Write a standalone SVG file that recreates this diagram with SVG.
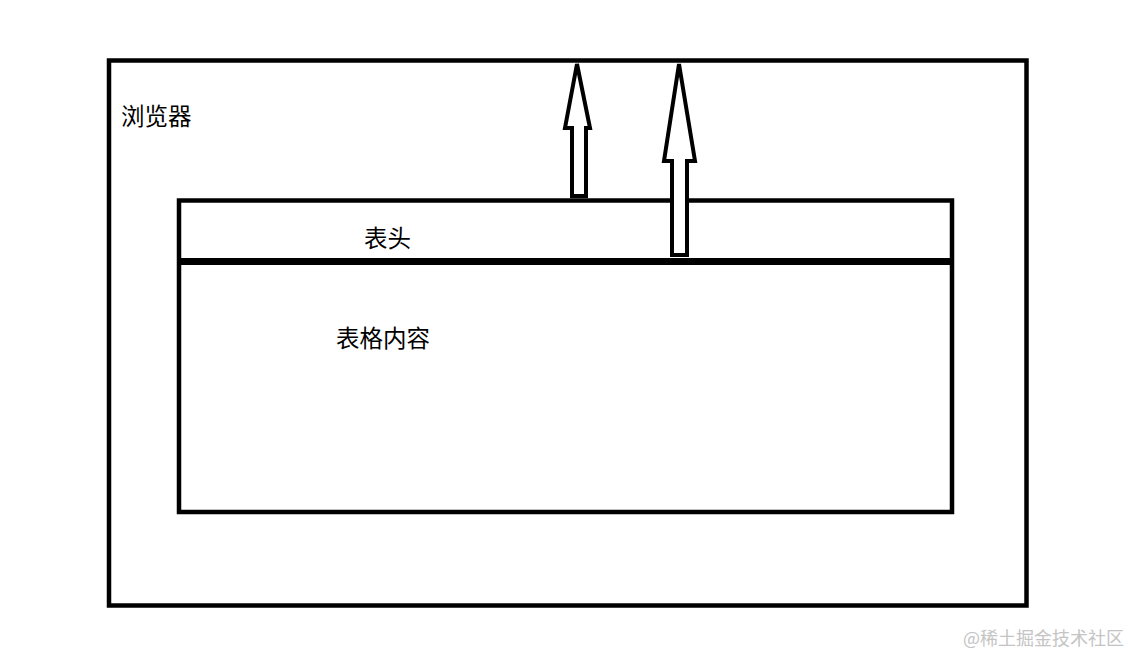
<svg xmlns="http://www.w3.org/2000/svg" width="1130" height="657" viewBox="0 0 1130 657">
<style>
.box{fill:none;stroke:#000;stroke-width:4.5}
.arrow{fill:#fff;stroke:#000;stroke-width:4;stroke-linejoin:miter}
.lbl{font-family:"Microsoft YaHei","Noto Sans CJK SC",sans-serif;font-size:23.5px;fill:#000}
.wm{font-family:"Noto Sans CJK SC",sans-serif;font-size:18px;fill:#c4c4c4}
</style>
<rect width="1130" height="657" fill="#fff"/>
<g id="browser">
<rect class="box" x="109" y="60.5" width="917.5" height="545"/>
<text class="lbl" x="121" y="125">浏览器</text>
</g>
<g id="table">
<rect class="box" x="179" y="200.5" width="773" height="311.5"/>
<line x1="177" y1="261.5" x2="954" y2="261.5" stroke="#000" stroke-width="7"/>
<text class="lbl" x="364" y="247">表头</text>
<text class="lbl" x="336" y="347">表格内容</text>
</g>
<g id="connectors">
<polygon class="arrow" points="577,64 590,128 586,128 586,196 572,196 572,128 565,128"/>
<polygon class="arrow" points="679,64 695,161 687,161 687,255 672,255 672,161 664,161"/>
</g>
<text class="wm" x="963" y="645">@稀土掘金技术社区</text>
</svg>
